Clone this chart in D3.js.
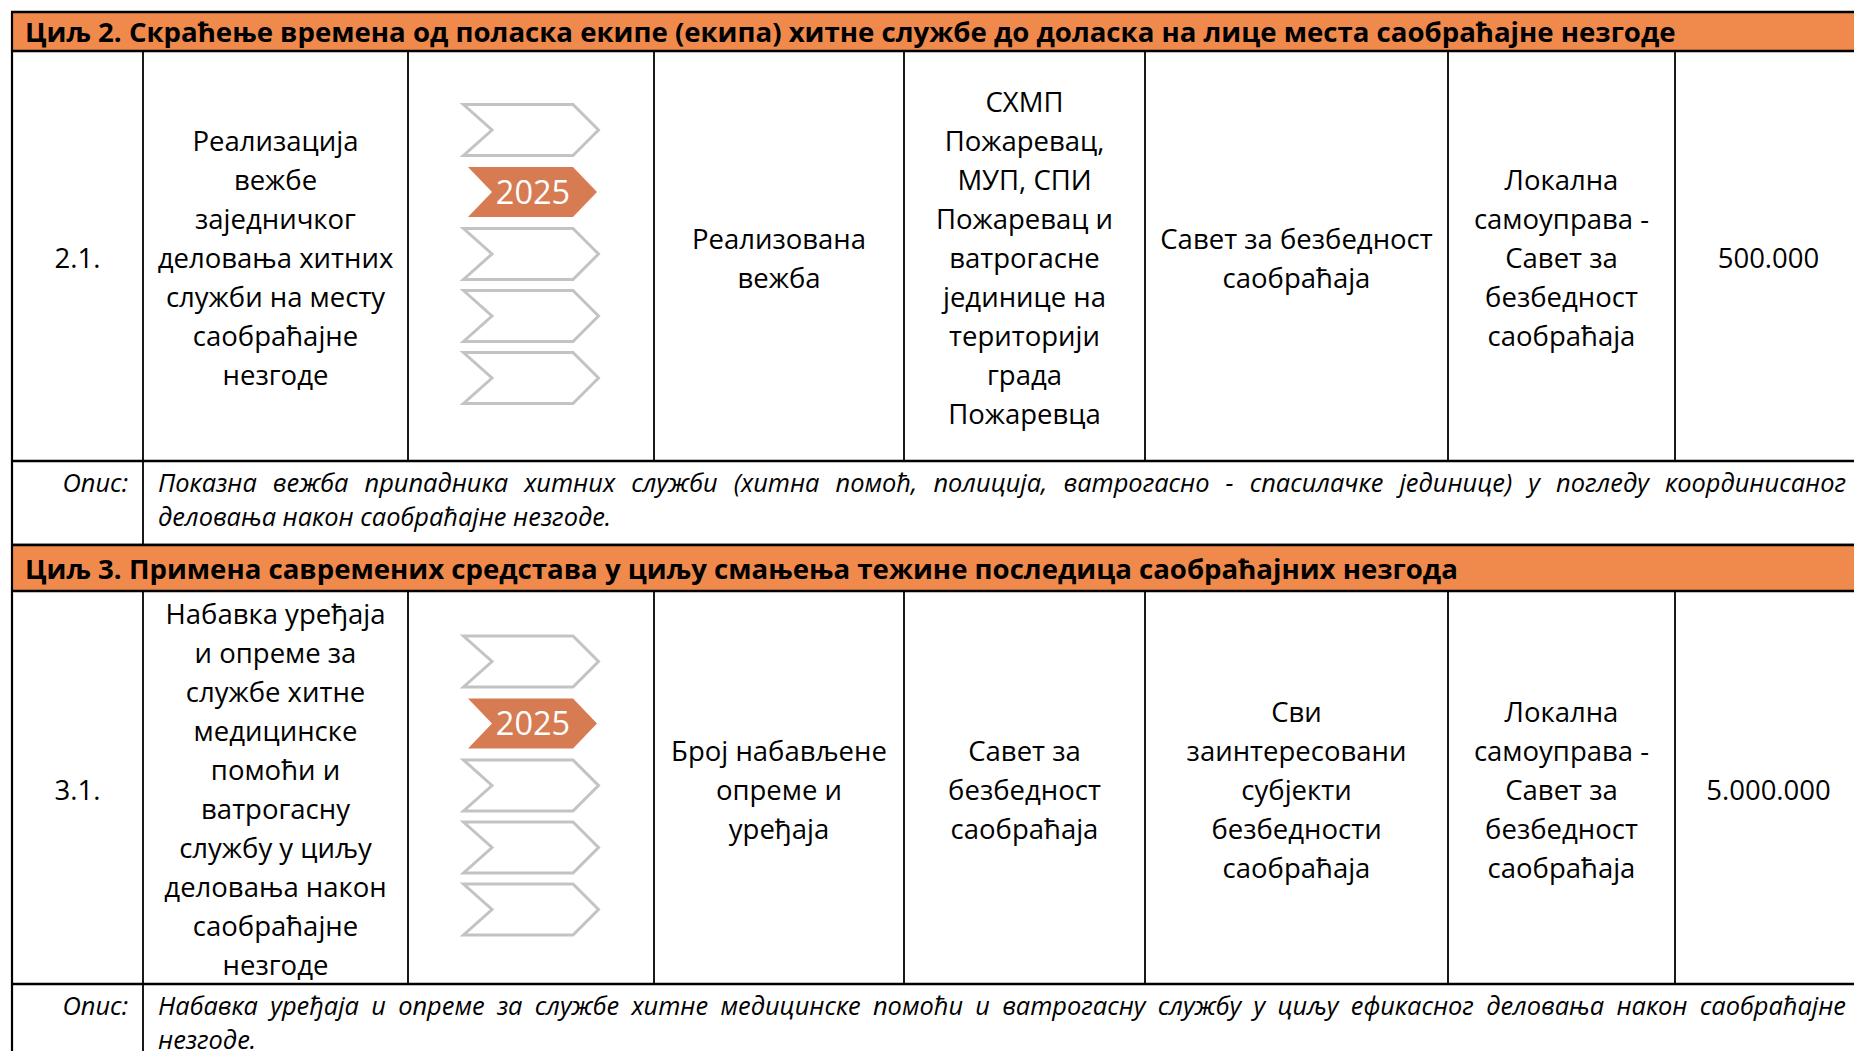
<!DOCTYPE html>
<html>
<head>
<meta charset="utf-8">
<script src="https://cdn.jsdelivr.net/npm/d3@7"></script>
<style>
  html, body { margin: 0; padding: 0; background: #ffffff; }
  svg { display: block; }
</style>
</head>
<body>
<svg id="chart" width="1854" height="1051"></svg>
<script>
// ---------------- DATA ----------------
const goalTitles = [
  "Циљ 2. Скраћење времена од поласка екипе (екипа) хитне службе до доласка на лице места саобраћајне незгоде",
  "Циљ 3. Примена савремених средстава у циљу смањења тежине последица саобраћајних незгода"
];
const measureIds = ["2.1.", "3.1."];
const activityLines = [
  ["Реализација", "вежбе", "заједничког", "деловања хитних", "служби на месту", "саобраћајне", "незгоде"],
  ["Набавка уређаја", "и опреме за", "службе хитне", "медицинске", "помоћи и", "ватрогасну", "службу у циљу", "деловања након", "саобраћајне", "незгоде"]
];
const timelineYears = ["", "2025", "", "", ""];   // one chevron per slot, the labelled one is active
const indicatorLines = [
  ["Реализована", "вежба"],
  ["Број набављене", "опреме и", "уређаја"]
];
const responsibleLines = [
  ["СХМП", "Пожаревац,", "МУП, СПИ", "Пожаревац и", "ватрогасне", "јединице на", "територији", "града", "Пожаревца"],
  ["Савет за", "безбедност", "саобраћаја"]
];
const partnerLines = [
  ["Савет за безбедност", "саобраћаја"],
  ["Сви", "заинтересовани", "субјекти", "безбедности", "саобраћаја"]
];
const fundingLines = [
  ["Локална", "самоуправа -", "Савет за", "безбедност", "саобраћаја"],
  ["Локална", "самоуправа -", "Савет за", "безбедност", "саобраћаја"]
];
const amounts = ["500.000", "5.000.000"];
const descLabel = "Опис:";
const descriptionLines = [
  ["Показна вежба припадника хитних служби (хитна помоћ, полиција, ватрогасно - спасилачке јединице) у погледу координисаног",
   "деловања након саобраћајне незгоде."],
  ["Набавка уређаја и опреме за службе хитне медицинске помоћи и ватрогасну службу у циљу ефикасног деловања након саобраћајне",
   "незгоде."]
];

// ---------------- LAYOUT ----------------
const colEdges = [12, 143, 408, 654, 904, 1145, 1448, 1675, 1862];
const sections = [
  { headTop: 12, headBot: 51, rowBot: 461, descBot: 545 },
  { headTop: 545, headBot: 591, rowBot: 984, descBot: 1070 }
];
const FONT = "'Open Sans', 'Noto Sans', sans-serif";
const bodySize = 27.5;
const headSize = 27.6;
const descSize = 25.4;
const lineH = 39;
const orangeHead = "#EF8A4C";
const orangeChev = "#D77B52";
const grayChev = "#C3C3C3";

const svg = d3.select("#chart");
const xCol = d3.scaleOrdinal().domain(d3.range(colEdges.length)).range(colEdges);

function centeredLines(g, lines, cx, cy, size) {
  const n = lines.length;
  const y = d3.scaleLinear().domain([0, n - 1 || 1]).range([cy - (n - 1) / 2 * lineH, cy + (n - 1) / 2 * lineH]);
  g.selectAll(null).data(lines).join("text")
    .attr("x", cx)
    .attr("y", (d, i) => (n === 1 ? cy : y(i)))
    .attr("dy", "0.36em")
    .attr("text-anchor", "middle")
    .attr("font-family", FONT)
    .attr("font-size", size)
    .attr("fill", "#000")
    .text(d => d);
}

function justifiedLine(g, text, x0, x1, y, size) {
  const words = text.split(" ");
  const tmp = g.append("g");
  const widths = words.map(w => {
    const t = tmp.append("text").attr("font-family", FONT).attr("font-size", size)
      .attr("font-style", "italic").text(w);
    return t.node().getComputedTextLength();
  });
  tmp.remove();
  const total = d3.sum(widths);
  const gap = (x1 - x0 - total) / (words.length - 1);
  let x = x0;
  words.forEach((w, i) => {
    g.append("text").attr("x", x).attr("y", y).attr("dy", "0.36em")
      .attr("font-family", FONT).attr("font-size", size).attr("font-style", "italic")
      .attr("fill", "#000").text(w);
    x += widths[i] + gap;
  });
}

sections.forEach((s, k) => {
  const g = svg.append("g");
  // header band
  g.append("rect").attr("x", colEdges[0]).attr("y", s.headTop)
    .attr("width", colEdges[8] - colEdges[0]).attr("height", s.headBot - s.headTop)
    .attr("fill", orangeHead);
  g.append("text").attr("x", 25).attr("y", (s.headTop + s.headBot) / 2 + 1).attr("dy", "0.36em")
    .attr("font-family", FONT).attr("font-weight", "bold").attr("font-size", headSize)
    .attr("fill", "#000").text(goalTitles[k]);

  const rowMid = (s.headBot + s.rowBot) / 2 + 2.5;
  const colMid = i => (xCol(i) + xCol(i + 1)) / 2;

  centeredLines(g, [measureIds[k]], colMid(0), rowMid, bodySize);
  centeredLines(g, activityLines[k], colMid(1), rowMid, bodySize);
  centeredLines(g, indicatorLines[k], colMid(3), rowMid, bodySize);
  centeredLines(g, responsibleLines[k], colMid(4), rowMid, bodySize);
  centeredLines(g, partnerLines[k], colMid(5), rowMid, bodySize);
  centeredLines(g, fundingLines[k], colMid(6), rowMid, bodySize);
  centeredLines(g, [amounts[k]], colMid(7), rowMid, bodySize);

  // chevron timeline
  const groupTop = rowMid - 4.5 - 151;
  const yBand = d3.scaleBand().domain(d3.range(timelineYears.length))
    .range([groupTop, groupTop + timelineYears.length * 62 - 8]).paddingInner(8 / 62);
  const cx0 = colMid(2) - 69;
  const chev = (x, top, h, left, notch, body, tip) => {
    const mid = top + h / 2;
    return `M${x + left},${top} L${x + body},${top} L${x + tip},${mid} L${x + body},${top + h} L${x + left},${top + h} L${x + notch},${mid} Z`;
  };
  const cg = g.append("g");
  cg.selectAll("path.chev").data(timelineYears).join("path")
    .attr("class", "chev")
    .attr("d", (d, i) => d
      ? chev(cx0, yBand(i) + 2, yBand.bandwidth() - 4, 6, 30, 111, 135)
      : chev(cx0, yBand(i) + 1.5, yBand.bandwidth() - 3, 1.5, 30, 111, 136.5))
    .attr("fill", d => d ? orangeChev : "#ffffff")
    .attr("stroke", d => d ? "none" : grayChev)
    .attr("stroke-width", 3)
    .attr("stroke-linejoin", "miter");
  cg.selectAll("text.yr").data(timelineYears.map((d, i) => ({ d, i })).filter(o => o.d)).join("text")
    .attr("class", "yr")
    .attr("x", cx0 + 71).attr("y", o => yBand(o.i) + yBand.bandwidth() / 2)
    .attr("dy", "0.36em").attr("text-anchor", "middle")
    .attr("font-family", FONT).attr("font-size", 32.5).attr("fill", "#ffffff")
    .text(o => o.d);

  // description row
  const dTop = s.rowBot;
  g.append("text").attr("x", colEdges[1] - 15).attr("y", dTop + 22).attr("dy", "0.36em")
    .attr("text-anchor", "end").attr("font-family", FONT).attr("font-style", "italic")
    .attr("font-size", descSize).attr("fill", "#000").text(descLabel);
  justifiedLine(g, descriptionLines[k][0], colEdges[1] + 15, 1846, dTop + 22, descSize);
  g.append("text").attr("x", colEdges[1] + 15).attr("y", dTop + 22 + 34).attr("dy", "0.36em")
    .attr("font-family", FONT).attr("font-style", "italic").attr("font-size", descSize)
    .attr("fill", "#000").text(descriptionLines[k][1]);

  // grid lines
  const lines = g.append("g").attr("stroke", "#000").attr("fill", "none");
  [s.headTop, s.headBot, s.rowBot, s.descBot].forEach(y => {
    lines.append("line").attr("x1", colEdges[0] - 1).attr("x2", colEdges[8]).attr("y1", y).attr("y2", y)
      .attr("stroke-width", 2.4);
  });
  lines.append("line").attr("x1", colEdges[0]).attr("x2", colEdges[0])
    .attr("y1", s.headTop).attr("y2", s.descBot).attr("stroke-width", 2.2);
  colEdges.slice(1, 8).forEach(x => {
    lines.append("line").attr("x1", x).attr("x2", x).attr("y1", s.headBot).attr("y2", s.rowBot)
      .attr("stroke-width", 1.8);
  });
  lines.append("line").attr("x1", colEdges[1]).attr("x2", colEdges[1])
    .attr("y1", s.rowBot).attr("y2", s.descBot).attr("stroke-width", 1.8);
});
</script>
</body>
</html>
